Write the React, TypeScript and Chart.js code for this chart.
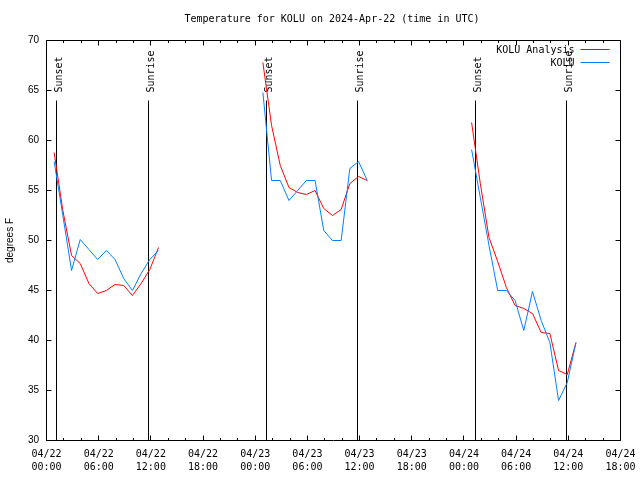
import React, { useEffect, useRef } from 'react';
import { Chart, registerables } from 'chart.js';

Chart.register(...registerables);

const TITLE = 'Temperature for KOLU on 2024-Apr-22 (time in UTC)';
const Y_LABEL = 'degrees F';
const SERIES_NAMES = ['KOLU Analysis', 'KOLU'];
const SERIES_COLORS = ['#ff0000', '#0080ff'];

// Observation times, hours since 2024-04-22 00:00 UTC
const obsHours = [
  0.88, 1.88, 2.88, 3.88, 4.88, 5.88, 6.88, 7.88, 8.88, 9.88, 10.88, 11.88, 12.88,
  24.88, 25.88, 26.88, 27.88, 28.88, 29.88, 30.88, 31.88, 32.88, 33.88, 34.88, 35.88, 36.88,
  48.88, 49.88, 50.88, 51.88, 52.88, 53.88, 54.88, 55.88, 56.88, 57.88, 58.88, 59.88, 60.88,
];

const analysisTemps = [
  58.8, 53.0, 48.5, 47.7, 45.7, 44.7, 45.0, 45.6, 45.5, 44.5, 45.7, 47.1, 49.3,
  67.8, 61.5, 57.5, 55.3, 54.8, 54.6, 55.0, 53.2, 52.5, 53.1, 55.7, 56.4, 56.0,
  61.8, 55.7, 50.3, 47.9, 45.3, 43.5, 43.2, 42.7, 40.8, 40.7, 37.0, 36.6, 39.8,
];

const koluTemps = [
  57.9, 52.5, 47.0, 50.1, 49.1, 48.1, 49.0, 48.1, 46.2, 45.0, 46.7, 48.1, 49.0,
  64.8, 56.0, 56.0, 54.0, 55.0, 56.0, 56.0, 51.0, 50.0, 50.0, 57.2, 57.9, 56.0,
  59.1, 54.3, 49.5, 45.0, 45.0, 44.0, 41.0, 44.9, 42.0, 39.8, 34.0, 35.8, 39.8,
];

const sunsetHours = [1.15, 25.3, 49.32];
const sunriseHours = [11.73, 35.76, 59.79];

const X_MIN = 0;
const X_MAX = 66;
const X_MAJOR = 6;
const X_MINOR = 2;
const Y_MIN = 30;
const Y_MAX = 70;
const Y_STEP = 5;
const START_MONTH = '04';
const START_DAY = 22;

const MONO = '"DejaVu Sans Mono", "Liberation Mono", monospace';
const SANS = '"Liberation Sans", Arial, sans-serif';

function toPoints(vals: number[]) {
  const pts: { x: number; y: number | null }[] = [];
  obsHours.forEach((h, i) => {
    if (i > 0 && h - obsHours[i - 1] > 2) {
      pts.push({ x: (h + obsHours[i - 1]) / 2, y: null });
    }
    pts.push({ x: h, y: vals[i] });
  });
  return pts;
}

function hourLabel(v: number): string[] {
  const day = START_DAY + Math.floor(v / 24);
  const hr = Math.round(v % 24);
  return [`${START_MONTH}/${String(day).padStart(2, '0')}`, `${String(hr).padStart(2, '0')}:00`];
}

const crisp = (p: number) => Math.round(p - 0.5) + 0.5;

const decor = {
  id: 'decor',
  beforeDatasetsDraw(chart: any) {
    const { ctx, chartArea, scales } = chart;
    const { left, right, top, bottom } = chartArea;
    const x = scales.x;
    const y = scales.y;
    ctx.save();
    ctx.strokeStyle = '#000';
    ctx.lineWidth = 1;
    // border
    ctx.beginPath();
    ctx.rect(left, top, right - left, bottom - top);
    ctx.stroke();
    // x ticks (bottom + mirrored top)
    ctx.beginPath();
    for (let h = X_MIN; h <= X_MAX; h += X_MINOR) {
      const px = crisp(x.getPixelForValue(h));
      const len = h % X_MAJOR === 0 ? 5 : 2.5;
      ctx.moveTo(px, bottom);
      ctx.lineTo(px, bottom - len);
      ctx.moveTo(px, top);
      ctx.lineTo(px, top + len);
    }
    // y ticks (left + mirrored right)
    for (let v = Y_MIN; v <= Y_MAX; v += Y_STEP) {
      const py = crisp(y.getPixelForValue(v));
      ctx.moveTo(left, py);
      ctx.lineTo(left + 5, py);
      ctx.moveTo(right, py);
      ctx.lineTo(right - 5, py);
    }
    ctx.stroke();

    // sunset / sunrise markers
    const lineTop = bottom - 0.85 * (bottom - top);
    const labelStart = bottom - 0.87 * (bottom - top);
    ctx.font = `10px ${MONO}`;
    ctx.fillStyle = '#000';
    const marks: [number, string][] = [
      ...sunsetHours.map((h) => [h, 'Sunset'] as [number, string]),
      ...sunriseHours.map((h) => [h, 'Sunrise'] as [number, string]),
    ];
    marks.forEach(([h, label]) => {
      const px = crisp(x.getPixelForValue(h));
      ctx.beginPath();
      ctx.moveTo(px, lineTop);
      ctx.lineTo(px, bottom);
      ctx.stroke();
      ctx.save();
      ctx.translate(px + 5.5, labelStart);
      ctx.rotate(-Math.PI / 2);
      ctx.textAlign = 'left';
      ctx.textBaseline = 'alphabetic';
      ctx.fillText(label, 0, 0);
      ctx.restore();
    });
    ctx.restore();
  },
  afterDraw(chart: any) {
    const { ctx, chartArea } = chart;
    const { left, right, top } = chartArea;
    ctx.save();
    ctx.fillStyle = '#000';
    ctx.font = `10px ${MONO}`;
    ctx.textAlign = 'center';
    ctx.textBaseline = 'middle';
    ctx.fillText(TITLE, (left + right) / 2 - 1.5, top - 21);
    // legend
    ctx.textAlign = 'right';
    chart.data.datasets.forEach((ds: any, i: number) => {
      const rowY = top + 9 + i * 13;
      ctx.fillStyle = '#000';
      ctx.fillText(ds.label, right - 46, rowY + 0.5);
      ctx.strokeStyle = ds.borderColor;
      ctx.lineWidth = 1;
      ctx.beginPath();
      ctx.moveTo(right - 40, rowY);
      ctx.lineTo(right - 11, rowY);
      ctx.stroke();
    });
    ctx.restore();
  },
};

export default function App() {
  const ref = useRef<HTMLCanvasElement>(null);
  useEffect(() => {
    document.body.style.margin = '0';
    const canvas = ref.current!;
    const chart = new Chart(canvas, {
      type: 'line',
      data: {
        datasets: [
          {
            label: SERIES_NAMES[0],
            data: toPoints(analysisTemps),
            borderColor: SERIES_COLORS[0],
            borderWidth: 1,
            pointRadius: 0,
            tension: 0,
            spanGaps: false,
            order: 2,
          },
          {
            label: SERIES_NAMES[1],
            data: toPoints(koluTemps),
            borderColor: SERIES_COLORS[1],
            borderWidth: 1,
            pointRadius: 0,
            tension: 0,
            spanGaps: false,
            order: 1,
          },
        ],
      } as any,
      options: {
        responsive: false,
        animation: false,
        devicePixelRatio: 1,
        layout: { padding: { left: 0, top: 40.5, right: 19.5, bottom: 0 } },
        plugins: {
          legend: { display: false },
          title: { display: false },
          tooltip: { enabled: false },
        },
        scales: {
          x: {
            type: 'linear',
            min: X_MIN,
            max: X_MAX,
            grid: { display: false, drawTicks: false },
            border: { display: false },
            ticks: {
              stepSize: X_MAJOR,
              autoSkip: false,
              maxRotation: 0,
              minRotation: 0,
              padding: 7,
              color: '#000',
              font: { family: MONO, size: 10, lineHeight: 1.3 },
              callback: (v: any) => hourLabel(Number(v)),
            },
            afterFit: (s: any) => {
              s.height = 39.5;
              s.paddingLeft = 0;
              s.paddingRight = 0;
            },
          },
          y: {
            type: 'linear',
            min: Y_MIN,
            max: Y_MAX,
            grid: { display: false, drawTicks: false },
            border: { display: false },
            ticks: {
              stepSize: Y_STEP,
              padding: 7.5,
              color: '#000',
              font: { family: SANS, size: 10 },
            },
            title: {
              display: true,
              text: Y_LABEL,
              color: '#000',
              font: { family: SANS, size: 10 },
              padding: { top: 4, bottom: 0 },
            },
            afterFit: (s: any) => {
              s.width = 46.5;
              s.paddingTop = 0;
              s.paddingBottom = 0;
            },
          },
        },
      } as any,
      plugins: [decor],
    });
    return () => chart.destroy();
  }, []);
  return (
    <div style={{ position: 'absolute', left: 0, top: 0, width: 640, height: 480 }}>
      <canvas ref={ref} width={640} height={480} style={{ display: 'block' }} />
    </div>
  );
}
